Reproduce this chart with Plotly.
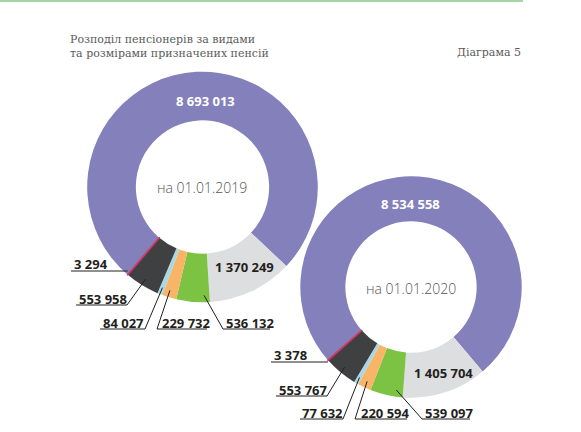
import math
import plotly.graph_objects as go

W, H = 581, 432

# ---- data ----
categories = ["k1", "k2", "k3", "k4", "k5", "k6", "k7"]
values_2019 = [8693013, 1370249, 536132, 229732, 84027, 553958, 3294]
values_2020 = [8534558, 1405704, 539097, 220594, 77632, 553767, 3378]
center_labels = ["на 01.01.2019", "на 01.01.2020"]
title_lines = ["Розподіл пенсіонерів за видами", "та розмірами призначених пенсій"]
diagram_label = "Діаграма 5"

colors = ["#8480BC", "#DDDEDF", "#7CC243", "#F8B568", "#A9D7E3", "#3F4041", "#D3365E"]


def fmt(v):
    return f"{v:,}".replace(",", " ")


def px(x):
    return x / W


def py(y):
    return 1 - y / H


# donut geometry (pixels)
donuts = [
    dict(values=values_2019, cx=202.5, cy=187.0, r=115.3, hole=0.578, rot=-139.5,
         center=center_labels[0],
         big=(205, 101),
         inner=(213, 267),
         labels=[
             (6, 72, 264, 271, 71, None, "right", 0.5),
             (5, 77, 299, 305, 76, 127, "right", 0.5),
             (4, 101, 323, 329, 100, 145, "right", 0.5),
             (3, 160, 323, 329, 157, 207, "left", 0.6),
             (2, 224, 323, 329, 223, 270, "left", 0.17),
         ]),
    dict(values=values_2020, cx=411.0, cy=287.0, r=110.7, hole=0.593, rot=-131.4,
         center=center_labels[1],
         big=(410.5, 204),
         inner=(412, 373),
         labels=[
             (6, 272, 355, 362, 271, None, "right", 0.5),
             (5, 277, 390, 396, 276, 327, "right", 0.5),
             (4, 300, 413, 419, 300, 343, "right", 0.5),
             (3, 359, 413, 419, 355, 407, "left", 0.5),
             (2, 423, 413, 419, 422, 470, "left", 0.22),
         ]),
]

fig = go.Figure()
shapes = []
annotations = []

label_font = dict(family="Open Sans", size=13, color="#231F20", weight="bold")

for d in donuts:
    vals = d["values"]
    line_w = [0, 0, 0, 0, 0, 0, 1.6]
    line_c = ["rgba(0,0,0,0)"] * 6 + [colors[6]]
    fig.add_trace(go.Pie(
        labels=categories, values=vals, hole=d["hole"], sort=False,
        direction="clockwise", rotation=d["rot"],
        marker=dict(colors=colors, line=dict(width=line_w, color=line_c)),
        textinfo="none", hoverinfo="skip", showlegend=False,
        domain=dict(x=[px(d["cx"] - d["r"]), px(d["cx"] + d["r"])],
                    y=[py(d["cy"] + d["r"]), py(d["cy"] - d["r"])]),
    ))
    total = sum(vals)
    starts = []
    acc = d["rot"]
    for v in vals:
        starts.append(acc)
        acc += v / total * 360.0

    def anchor(i, frac, rr=0.94):
        a = math.radians(starts[i] + frac * vals[i] / total * 360.0)
        return (d["cx"] + rr * d["r"] * math.sin(a), d["cy"] - rr * d["r"] * math.cos(a))

    annotations.append(dict(x=px(d["cx"]), y=py(d["cy"] + 1), xref="paper", yref="paper",
                            text=d["center"], showarrow=False, xanchor="center", yanchor="middle",
                            font=dict(family="Open Sans", size=14, color="#555555", weight=300)))
    annotations.append(dict(x=px(d["big"][0]), y=py(d["big"][1]), xref="paper", yref="paper",
                            text=fmt(vals[0]), showarrow=False, xanchor="center", yanchor="middle",
                            font=dict(family="Open Sans", size=13, color="white", weight="bold")))
    annotations.append(dict(x=px(d["inner"][0]), y=py(d["inner"][1]), xref="paper", yref="paper",
                            text=fmt(vals[1]), showarrow=False, xanchor="left", yanchor="middle",
                            font=label_font))
    for (i, tx, ty, uy, ux0, ux1, side, frac) in d["labels"]:
        annotations.append(dict(x=px(tx), y=py(ty), xref="paper", yref="paper",
                                text=fmt(vals[i]), showarrow=False, xanchor="left", yanchor="middle",
                                font=label_font))
        if ux1 is None:
            ax, ay = anchor(i, frac, 1.0)
            shapes.append(dict(type="line", xref="paper", yref="paper",
                               x0=px(ux0), y0=py(uy), x1=px(ax), y1=py(uy),
                               line=dict(color="#231F20", width=1)))
        else:
            ax, ay = anchor(i, frac)
            shapes.append(dict(type="line", xref="paper", yref="paper",
                               x0=px(ux0), y0=py(uy), x1=px(ux1), y1=py(uy),
                               line=dict(color="#231F20", width=1)))
            sx = ux1 if side == "right" else ux0
            shapes.append(dict(type="line", xref="paper", yref="paper",
                               x0=px(sx), y0=py(uy), x1=px(ax), y1=py(ay),
                               line=dict(color="#231F20", width=1)))

# top green rule
shapes.append(dict(type="line", xref="paper", yref="paper", x0=0, x1=px(523), y0=py(1), y1=py(1),
                   line=dict(color="#A3D6A0", width=2)))

# titles (two lines in one annotation to avoid overlap)
title_font = dict(family="DejaVu Serif", size=11, color="#5a5a5a")
annotations.append(dict(x=px(68), y=py(30.5), xref="paper", yref="paper",
                        text=title_lines[0] + "<br>" + title_lines[1],
                        showarrow=False, xanchor="left", yanchor="top", align="left",
                        font=title_font))
annotations.append(dict(x=px(523), y=py(52.5), xref="paper", yref="paper", text=diagram_label,
                        showarrow=False, xanchor="right", yanchor="middle", font=title_font))

fig.update_layout(width=W, height=H, autosize=False,
                  margin=dict(l=0, r=0, t=0, b=0),
                  paper_bgcolor="white", plot_bgcolor="white",
                  shapes=shapes, annotations=annotations)

fig.write_html("out.html")
